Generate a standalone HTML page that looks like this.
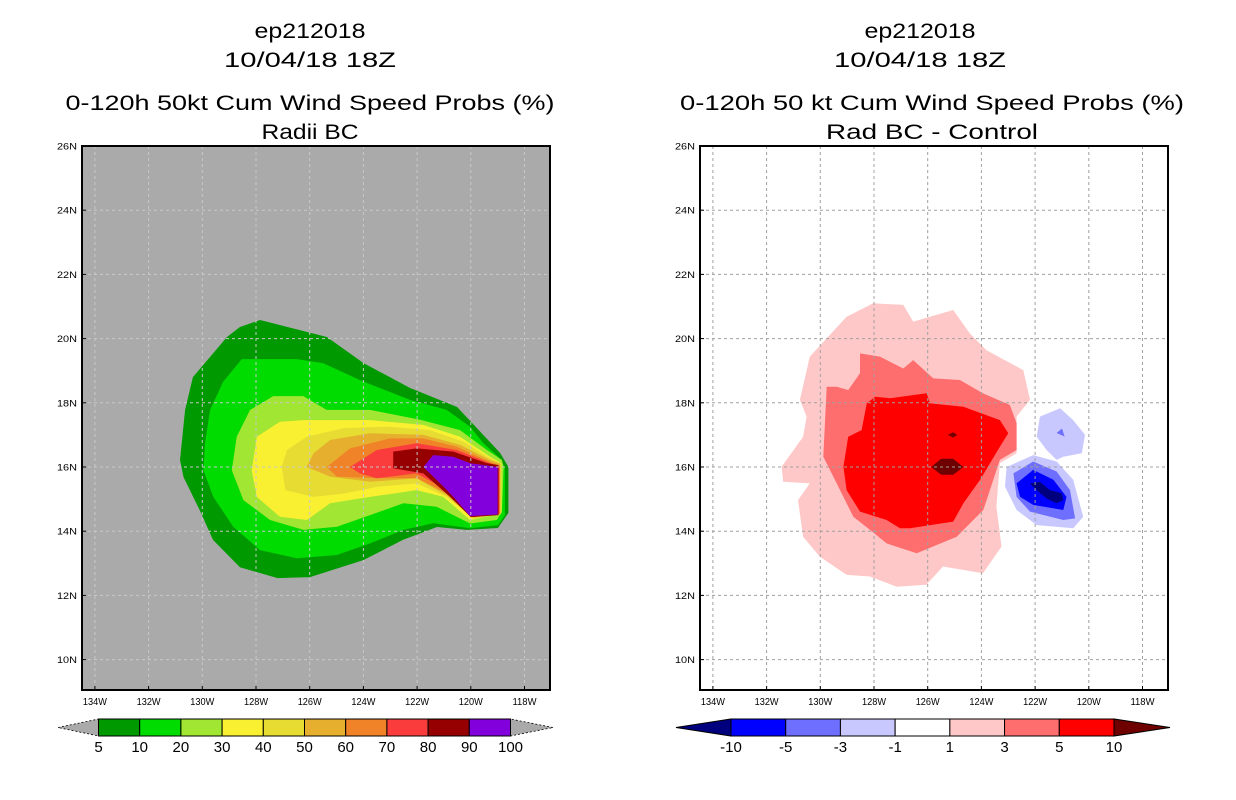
<!DOCTYPE html>
<html><head><meta charset="utf-8"><style>
body{margin:0;background:#fff}
svg{display:block}
text{font-family:"Liberation Sans",sans-serif}
</style></head><body>
<svg id="c" width="1236" height="800" xmlns="http://www.w3.org/2000/svg"></svg>
<script>
// ---------- data ----------
const leftLevels = ["5","10","20","30","40","50","60","70","80","90","100"];
const leftColors = ["#009900","#00dc00","#a0e632","#faf032","#e6dc32","#e6af2d","#f08228","#fa3c3c","#960000","#8200dc"];
const rightLevels = ["-10","-5","-3","-1","1","3","5","10"];
const rightColors = ["#00007f","#0000ff","#6e6eff","#c8c8ff","#ffffff","#ffc8c8","#ff6e6e","#ff0000","#6e0000"];
const lonTicks = [134,132,130,128,126,124,122,120,118];
const latTicks = [10,12,14,16,18,20,22,24,26];
// contour polygons [lonW, latN]
const probC5 = [[127.85,20.58],[125.36,20.05],[124.0,19.24],[122.26,18.46],[120.51,17.87],[118.91,16.44],[118.6,16.0],[118.6,14.57],[118.99,14.1],[120.14,14.04],[121.26,14.13],[122.53,13.73],[124.0,13.1],[125.99,12.57],[127.2,12.54],[128.6,12.88],[129.6,13.73],[130.1,14.66],[130.7,15.69],[130.83,16.22],[130.64,17.78],[130.35,18.8],[129.08,20.05],[128.6,20.36]];
const probC10 = [[128.53,19.36],[126.48,19.36],[125.49,19.23],[124.0,18.66],[122.26,18.09],[120.9,17.78],[120.03,17.26],[119.53,16.74],[118.98,16.32],[118.73,16.0],[118.73,14.5],[118.98,14.19],[120.03,14.09],[121.4,14.25],[122.51,14.04],[123.75,13.62],[124.99,13.26],[126.48,13.16],[127.85,13.41],[128.85,14.14],[129.59,15.07],[129.96,15.9],[129.9,16.74],[129.71,17.78],[129.22,18.66]];
const probC20 = [[127.36,18.21],[126.24,18.21],[125.37,17.78],[123.75,17.78],[121.89,17.47],[120.4,17.15],[119.4,16.53],[118.84,16.22],[118.78,16.0],[118.84,14.61],[119.03,14.35],[120.03,14.24],[121.27,14.76],[122.51,14.87],[123.75,14.5],[124.99,14.14],[126.23,14.04],[127.48,14.35],[128.47,14.97],[128.9,15.9],[128.72,16.94],[128.22,17.78]];
const probC30 = [[127.11,17.41],[126.24,17.46],[123.75,17.46],[121.77,17.31],[120.4,16.94],[119.29,16.32],[118.86,16.12],[118.86,14.56],[120.03,14.35],[121.02,15.07],[122.01,15.28],[123.75,15.07],[125.24,14.87],[126.11,14.35],[127.11,14.45],[127.97,15.07],[128.16,15.9],[127.97,16.94]];
const probC40 = [[126.11,16.94],[124.75,17.21],[123.13,17.26],[121.52,17.15],[120.28,16.79],[119.29,16.27],[118.88,16.12],[118.88,14.53],[119.9,14.4],[120.9,15.07],[122.01,15.49],[123.5,15.38],[124.75,15.17],[125.86,15.07],[126.91,15.28],[127.04,16.0],[126.85,16.53]];
const probC50 = [[125.24,16.84],[123.75,17.05],[121.77,17.0],[120.4,16.69],[119.29,16.22],[118.9,16.1],[118.9,14.54],[119.92,14.42],[120.9,15.12],[122.01,15.65],[123.75,15.54],[125.24,15.7],[126.11,16.0],[125.86,16.43]];
const probC60 = [[124.5,16.58],[123.01,16.89],[121.77,16.89],[120.53,16.63],[119.29,16.16],[118.92,16.06],[118.92,14.55],[119.94,14.44],[120.9,15.18],[122.01,15.65],[123.5,15.65],[124.99,15.7],[125.36,16.0]];
const probC70 = [[124.5,16.0],[123.5,16.53],[122.01,16.74],[120.53,16.53],[119.29,16.12],[118.94,16.0],[118.94,14.54],[119.96,14.44],[120.9,15.28],[122.01,15.8],[123.5,15.65],[124.13,15.8]];
const probC80 = [[122.89,16.48],[122.01,16.58],[120.65,16.48],[119.41,16.12],[118.97,16.06],[118.97,14.5],[120.0,14.44],[120.77,15.07],[121.27,15.44],[121.77,15.8],[122.89,15.96]];
const probC90 = [[121.77,16.0],[121.4,16.37],[120.65,16.32],[120.03,16.12],[119.0,16.0],[119.0,14.52],[120.03,14.47],[120.65,15.07],[121.02,15.39],[121.4,15.7]];
const diffP1 = [[128.03,21.1],[126.91,21.05],[126.54,20.53],[125.05,20.89],[124.43,20.16],[123.81,19.64],[122.44,19.02],[122.19,18.09],[122.69,17.57],[122.69,16.43],[123.31,16.12],[123.44,14.77],[123.25,13.52],[123.94,12.69],[125.43,12.9],[126.05,12.33],[127.16,12.27],[128.15,12.59],[129.02,12.64],[130.02,13.21],[130.64,13.83],[130.83,14.97],[130.39,15.49],[131.38,15.54],[131.44,16.01],[130.64,16.94],[130.51,17.57],[130.76,18.09],[130.39,19.44],[129.02,20.68]];
const diffP3 = [[128.52,19.54],[127.78,19.44],[126.91,19.07],[126.54,19.33],[125.79,18.76],[124.8,18.71],[123.93,18.29],[122.94,17.93],[122.69,17.36],[122.69,16.53],[123.31,16.22],[123.93,14.66],[124.92,13.83],[126.41,13.31],[127.53,13.62],[128.15,14.04],[128.77,14.45],[129.39,15.49],[129.89,16.32],[129.76,18.5],[129.39,18.5],[128.96,18.4],[128.52,18.92]];
const diffP5 = [[128.27,17.98],[127.96,18.19],[127.4,18.14],[126.04,18.3],[125.91,17.98],[124.67,17.88],[123.31,17.46],[123.0,17.05],[123.31,16.63],[124.05,15.6],[124.67,14.87],[125.05,14.3],[126.66,14.09],[127.03,14.09],[127.53,14.35],[128.52,14.61],[129.02,15.28],[129.14,16.01],[128.96,16.94],[128.46,17.15]];
const diffP10a = [[125.87,16.0],[125.5,16.26],[125.05,16.26],[124.67,16.0],[125.05,15.76],[125.5,15.76]];
const diffP10b = [[125.25,17.0],[125.05,17.08],[124.9,17.0],[125.05,16.92]];
const diffN1a = [[121.82,17.57],[121.07,17.83],[120.58,17.46],[120.14,17.0],[120.26,16.43],[120.95,16.32],[121.2,16.22],[121.57,16.53],[121.94,16.94]];
const diffN1b = [[123.06,16.0],[122.07,16.37],[121.2,16.17],[120.58,15.6],[120.21,14.45],[120.58,14.09],[121.94,14.19],[122.69,14.66],[123.12,15.39]];
const diffN3a = [[121.2,17.06],[121.0,17.2],[120.9,16.95]];
const diffN3b = [[122.81,15.8],[122.07,16.17],[121.2,15.86],[120.7,15.28],[120.51,14.4],[120.95,14.35],[122.19,14.61],[122.69,15.07]];
const diffN5 = [[122.69,15.49],[122.07,15.91],[121.32,15.6],[120.83,15.07],[120.95,14.66],[122.07,14.82],[122.56,15.07]];
const diffN10 = [[122.19,15.49],[121.82,15.54],[121.45,15.28],[121.01,15.18],[120.95,14.97],[121.2,14.87],[121.57,15.02],[121.94,15.28]];

// ---------- drawing ----------
const NS="http://www.w3.org/2000/svg";
const svg=document.getElementById('c');
function mk(tag,attrs,parent){const e=document.createElementNS(NS,tag);for(const k in attrs)e.setAttribute(k,attrs[k]);(parent||svg).appendChild(e);return e;}
const PY0=146,PY1=690;
function yS(lat){return 467-(lat-16)*32.1;}
function xS(off){return lon=>256+off+(128-lon)*26.85;}

function poly(pts,xf,fill,name,g){
  const e=mk('polygon',{points:pts.map(p=>xf(p[0]).toFixed(1)+','+yS(p[1]).toFixed(1)).join(' '),fill:fill},g);
  
  
}
function txt(s,x,y,size,anchor,name,len){
  const t=mk('text',{x:x,y:y,'font-size':size,'text-anchor':anchor||'middle',fill:'#000'});
  if(len){t.setAttribute('textLength',len);t.setAttribute('lengthAdjust','spacingAndGlyphs');}
  t.textContent=s;
  
  
  return t;
}

function panel(off,bg,gridColor,polys,titles,prefix){
  const x0=82+off,x1=550+off;
  const xf=xS(off);
  const g=mk('g',{});
  
  
  const cp=mk('clipPath',{id:'cp'+prefix});mk('rect',{x:x0,y:PY0,width:x1-x0,height:PY1-PY0},cp);
  g.setAttribute('clip-path','url(#cp'+prefix+')');
  const bgR=mk('rect',{x:x0,y:PY0,width:x1-x0,height:PY1-PY0,fill:bg},g);
  
  
  polys.forEach(p=>poly(p[0],xf,p[1],p[2],g));
  lonTicks.forEach(l=>{const x=xf(l);if(x>x0&&x<x1){const ln=mk('line',{x1:x,x2:x,y1:PY0,y2:PY1,stroke:gridColor,'stroke-width':1,'stroke-dasharray':'3,3'},g);
    }});
  latTicks.forEach(l=>{const y=yS(l);if(y>PY0+1&&y<PY1){const ln=mk('line',{x1:x0,x2:x1,y1:y,y2:y,stroke:gridColor,'stroke-width':1,'stroke-dasharray':'3,3'},g);
    }});
  const fr=mk('rect',{x:x0,y:PY0,width:x1-x0,height:PY1-PY0,fill:'none',stroke:'#000','stroke-width':2});
  
  
  lonTicks.forEach(l=>{const x=xf(l);
    mk('line',{x1:x,x2:x,y1:PY1,y2:PY1-4,stroke:'#000'});
    txt(l+'W',x,705,10,'middle','x-tick-label',24);});
  latTicks.forEach(l=>{const y=yS(l);
    mk('line',{x1:x0,x2:x0+4,y1:y,y2:y,stroke:'#000'});
    txt(l+'N',x0-5,y+3.5,9,'end','y-tick-label',20);});
  const cx=(x0+x1)/2+(prefix==='left'?-6:-14);
  txt(titles[0],cx,38,21,'middle','storm-id-title',titles[4]);
  txt(titles[1],cx,67,21,'middle','date-title',titles[5]);
  txt(titles[2],cx+(prefix==='left'?0:12),110,21,'middle','product-title',titles[6]);
  txt(titles[3],cx+(prefix==='left'?0:12),139,21,'middle','subtitle',titles[7]);
}

panel(0,'#aaaaaa','#c8c8c8',[
 [probC5,leftColors[0],'contour-5'],[probC10,leftColors[1],'contour-10'],[probC20,leftColors[2],'contour-20'],
 [probC30,leftColors[3],'contour-30'],[probC40,leftColors[4],'contour-40'],[probC50,leftColors[5],'contour-50'],
 [probC60,leftColors[6],'contour-60'],[probC70,leftColors[7],'contour-70'],[probC80,leftColors[8],'contour-80'],
 [probC90,leftColors[9],'contour-90']],
 ['ep212018','10/04/18 18Z','0-120h 50kt Cum Wind Speed Probs (%)','Radii BC',111,172,489,97],'left');

panel(618,'#ffffff','#a0a0a0',[
 [diffP1,rightColors[5],'diff-contour-1'],[diffP3,rightColors[6],'diff-contour-3'],[diffP5,rightColors[7],'diff-contour-5'],
 [diffP10a,rightColors[8],'diff-contour-10'],[diffP10b,rightColors[8],'diff-contour-10-small'],
 [diffN1a,rightColors[3],'diff-contour-neg1-north'],[diffN1b,rightColors[3],'diff-contour-neg1'],
 [diffN3a,rightColors[2],'diff-contour-neg3-north'],[diffN3b,rightColors[2],'diff-contour-neg3'],
 [diffN5,rightColors[1],'diff-contour-neg5'],[diffN10,rightColors[0],'diff-contour-neg10']],
 ['ep212018','10/04/18 18Z','0-120h 50 kt Cum Wind Speed Probs (%)','Rad BC - Control',111,172,504,212],'right');

// ---------- colorbars ----------
function colorbar(x0,x1,tipL,tipR,colors,labels,triL,triR,prefix){
  const y0=719,y1=736,ym=(y0+y1)/2,n=colors.length,w=(x1-x0)/n;
  const a=mk('polygon',{points:`${tipL},${ym} ${x0},${y0} ${x0},${y1}`,fill:triL,stroke:'#000','stroke-width':triL==='#aaaaaa'?0.8:1,'stroke-dasharray':triL==='#aaaaaa'?'2,2':'none'});
  
  const b=mk('polygon',{points:`${tipR},${ym} ${x1},${y0} ${x1},${y1}`,fill:triR,stroke:'#000','stroke-width':triR==='#aaaaaa'?0.8:1,'stroke-dasharray':triR==='#aaaaaa'?'2,2':'none'});
  
  colors.forEach((c,i)=>{const r=mk('rect',{x:x0+i*w,y:y0,width:w,height:y1-y0,fill:c,stroke:'#000','stroke-width':1});
    });
  labels.forEach((l,i)=>txt(l,x0+i*w,752,15,'middle',prefix+'-colorbar-label'));
}
colorbar(98.5,510.5,58,553,leftColors,leftLevels,'#aaaaaa','#aaaaaa','left');
colorbar(731,1114,676,1170,rightColors.slice(1,8),rightLevels,rightColors[0],rightColors[8],'right');
</script>
</body></html>
